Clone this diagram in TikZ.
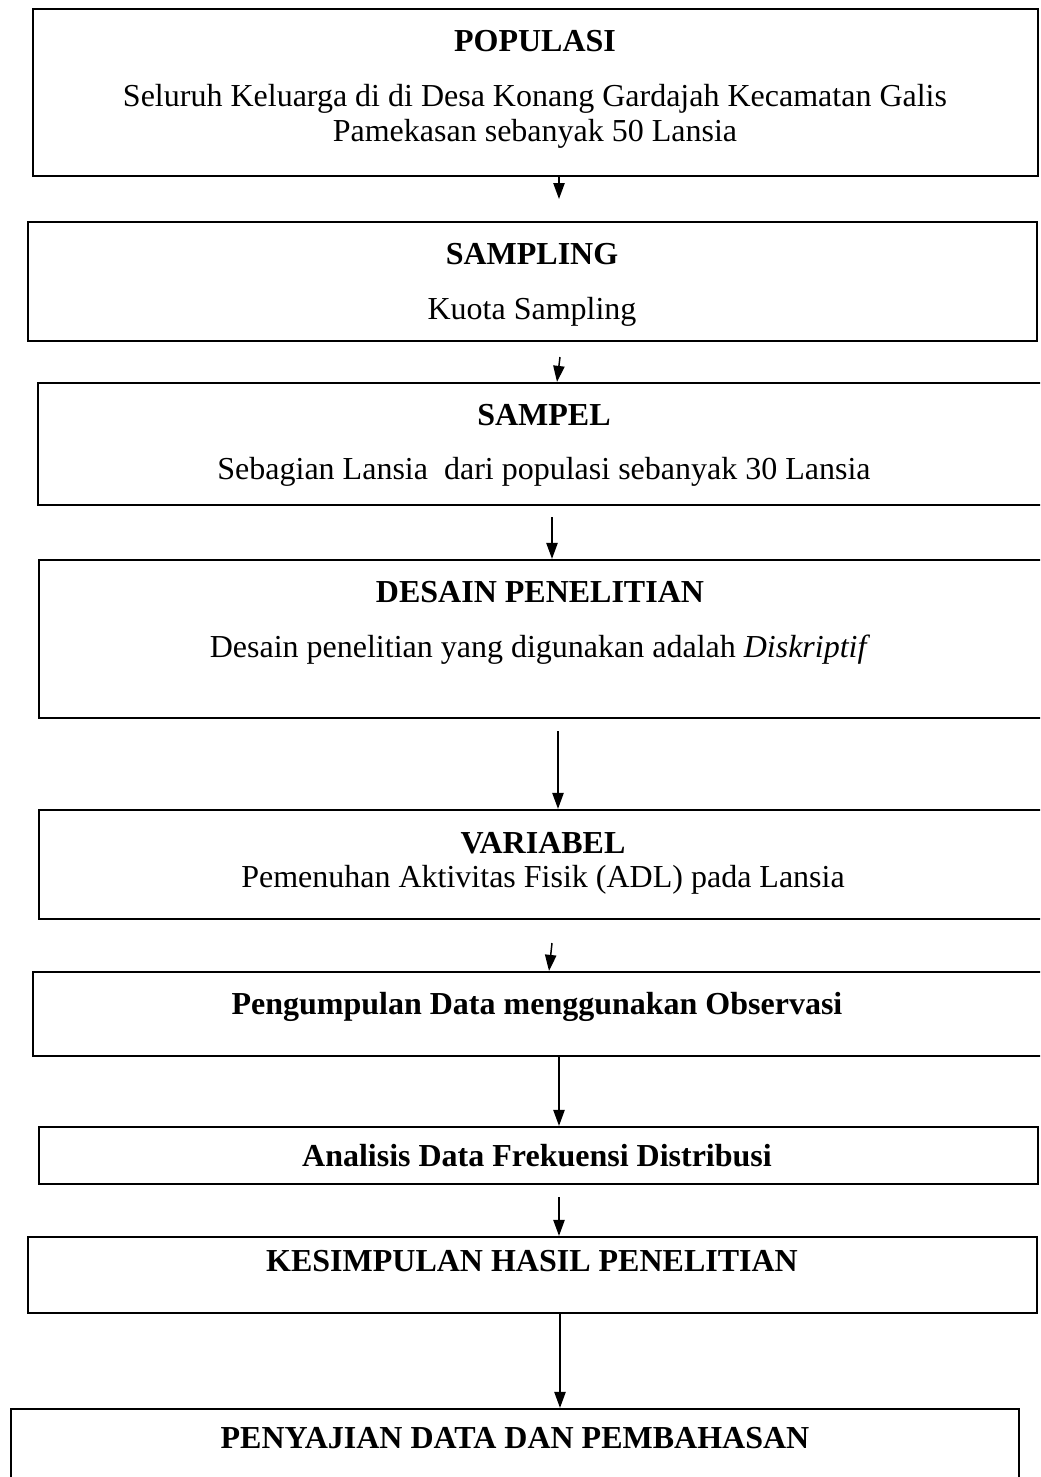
\documentclass[tikz,border=0pt]{standalone}
\usepackage{fontspec}
\setmainfont{Liberation Serif}
\usetikzlibrary{arrows.meta,fit}
\begin{document}
\begin{tikzpicture}[x=0.75pt,y=-0.75pt,
  box/.style={draw, line width=1.7pt, inner sep=0pt},
  ttl/.style={anchor=base, inner sep=0pt, font=\fontsize{24}{28}\selectfont\bfseries},
  txt/.style={anchor=base, inner sep=0pt, font=\fontsize{24}{28}\selectfont},
  arr/.style={line width=1.1pt, -{Triangle[length=12pt,width=8.5pt]}}]
\useasboundingbox (0,0) rectangle (1040,1477);
\fill[white] (0,0) rectangle (1040,1477);
\clip (0,0) rectangle (1040,1477);
% boxes
\node[box, fit={(33,9) (1038,176)}] (pop) {};
\node[box, fit={(28,222) (1037,341)}] (smp) {};
\node[box, fit={(38,383) (1052,505)}] (spl) {};
\node[box, fit={(39,560) (1052,718)}] (des) {};
\node[box, fit={(39,810) (1052,919)}] (var) {};
\node[box, fit={(33,972) (1052,1056)}] (peng) {};
\node[box, fit={(39,1127) (1038,1184)}] (ana) {};
\node[box, fit={(28,1237) (1037,1313)}] (kes) {};
\node[box, fit={(11,1409) (1019,1495)}] (pen) {};
% texts
\node[ttl] (popT) at (535,52) {POPULASI};
\node[txt] (popL1) at (535,107) {Seluruh Keluarga di di Desa Konang Gardajah Kecamatan Galis};
\node[txt] (popL2) at (535,141) {Pamekasan sebanyak 50 Lansia};
\node[ttl] (smpT) at (532,264) {SAMPLING};
\node[txt] (smpL) at (532,319) {Kuota Sampling};
\node[ttl] (splT) at (544,425) {SAMPEL};
\node[txt] (splL) at (544,479) {Sebagian Lansia\ \ dari populasi sebanyak 30 Lansia};
\node[ttl] (desT) at (540,602) {DESAIN PENELITIAN};
\node[txt] (desL) at (540,657) {Desain penelitian yang digunakan adalah \textit{Diskriptif}};
\node[ttl] (varT) at (543,853) {VARIABEL};
\node[txt] (varL) at (543,887) {Pemenuhan Aktivitas Fisik (ADL) pada Lansia};
\node[ttl] (pengT) at (537,1014) {Pengumpulan Data menggunakan Observasi};
\node[ttl] (anaT) at (537,1166) {Analisis Data Frekuensi Distribusi};
\node[ttl] (kesT) at (532,1271) {KESIMPULAN HASIL PENELITIAN};
\node[ttl] (penT) at (515,1448) {PENYAJIAN DATA DAN PEMBAHASAN};
% connectors
\coordinate (a1e) at (559,199);
\draw[arr] (pop.south -| a1e) -- (a1e);
\coordinate (a2s) at (560,357);
\coordinate (a2e) at (557,380);
\draw[arr] (a2s) -- (a2e |- spl.north);
\coordinate (a3s) at (552,517);
\draw[arr] (a3s) -- (a3s |- des.north);
\coordinate (a4s) at (558,731);
\draw[arr] (a4s) -- (a4s |- var.north);
\coordinate (a5s) at (552,943);
\coordinate (a5e) at (549,970);
\draw[arr] (a5s) -- (a5e |- peng.north);
\coordinate (a6x) at (559,1100);
\draw[arr] (peng.south -| a6x) -- (ana.north -| a6x);
\coordinate (a7s) at (559,1197);
\draw[arr] (a7s) -- (a7s |- kes.north);
\coordinate (a8x) at (560,1350);
\draw[arr] (kes.south -| a8x) -- (pen.north -| a8x);
\end{tikzpicture}
\end{document}
